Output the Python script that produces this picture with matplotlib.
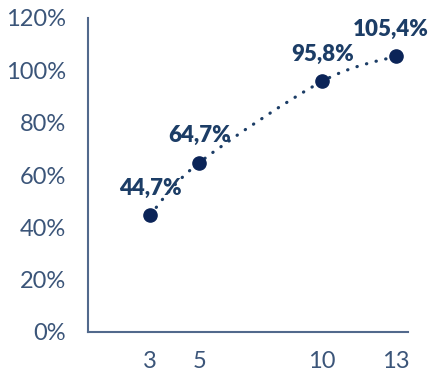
import numpy as np
import matplotlib
matplotlib.use('Agg')
import matplotlib.pyplot as plt
from matplotlib.path import Path
from matplotlib.patches import PathPatch

# data
years = [3, 5, 10, 13]
values = [44.7, 64.7, 95.8, 105.4]
labels = ['44,7%', '64,7%', '95,8%', '105,4%']
y_ticks = [0, 20, 40, 60, 80, 100, 120]

navy = '#0b2458'
label_color = '#1c3d66'
tick_color = '#3b5579'
spine_color = '#52698c'

plt.rcParams['font.family'] = ['Lato', 'DejaVu Sans']

fig = plt.figure(figsize=(4.31, 3.74), dpi=100)
ax = fig.add_axes([88 / 431, 42 / 374, 320 / 431, 314 / 374])
ax.set_xlim(0.48, 13.49)
ax.set_ylim(0, 120)


def smooth_path(xs, ys):
    """Catmull-Rom style cubic Bezier through the points (like a smoothed Excel line)."""
    pts = np.column_stack([xs, ys]).astype(float)
    verts = [pts[0]]
    codes = [Path.MOVETO]
    n = len(pts)
    for i in range(n - 1):
        p0 = pts[i - 1] if i > 0 else pts[i]
        p1, p2 = pts[i], pts[i + 1]
        p3 = pts[i + 2] if i + 2 < n else pts[i + 1]
        c1 = p1 + (p2 - p0) / 6
        c2 = p2 - (p3 - p1) / 6
        verts += [c1, c2, p2]
        codes += [Path.CURVE4] * 3
    return Path(verts, codes)


ax.add_patch(PathPatch(smooth_path(years, values), fill=False, edgecolor=label_color,
                       lw=2.3, linestyle=(0, (0.1, 3.0)), capstyle='round', zorder=2))
ax.plot(years, values, 'o', color=navy, ms=9.5, zorder=3)

for x, y, txt in zip(years, values, labels):
    dx = -4 if x == years[-1] else 0
    ax.annotate(txt, (x, y), xytext=(dx, 19.5), textcoords='offset points',
                ha='center', va='center', fontsize=16, fontweight='heavy', color=label_color)

ax.set_xticks(years)
ax.set_xticklabels([str(v) for v in years])
ax.set_yticks(y_ticks)
ax.set_yticklabels([f'{v}%' for v in y_ticks])
ax.tick_params(length=0, labelsize=17, colors=tick_color)
ax.tick_params(axis='x', pad=14)
ax.tick_params(axis='y', pad=16)

for side in ('top', 'right'):
    ax.spines[side].set_visible(False)
for side in ('left', 'bottom'):
    ax.spines[side].set_color(spine_color)
    ax.spines[side].set_linewidth(1.5)

fig.savefig('out.png', dpi=100)
